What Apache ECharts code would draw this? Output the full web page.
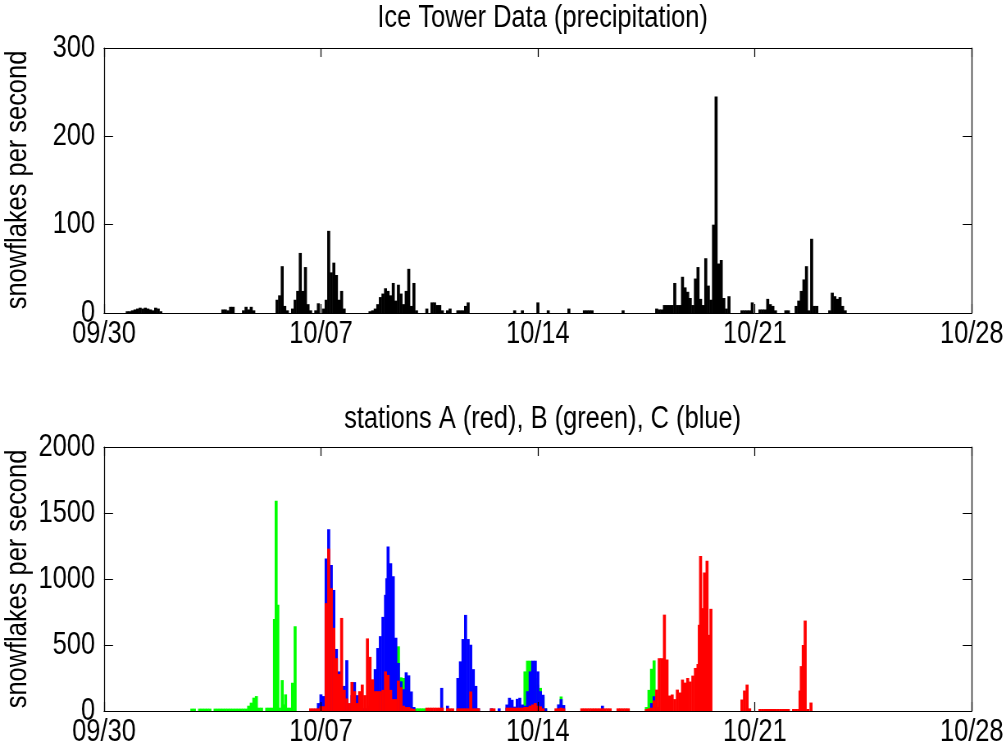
<!DOCTYPE html>
<html>
<head>
<meta charset="utf-8">
<script src="https://cdn.jsdelivr.net/npm/echarts@6/dist/echarts.min.js"></script>
<style>
html,body{margin:0;padding:0;background:#fff;overflow:hidden;}
#wrap{width:1006px;height:748px;overflow:hidden;}
#chart{width:1227px;height:748px;transform:scaleX(0.819886);transform-origin:0 0;}
</style>
</head>
<body>
<div id="wrap"><div id="chart"></div></div>
<script>
// x values: hours since 09/30 00:00
const tickLabels = ['09/30', '10/07', '10/14', '10/21', '10/28'];
const topTitle = 'Ice Tower Data (precipitation)';
const bottomTitle = 'stations A (red), B (green), C (blue)';
const yName = 'snowflakes per second';

const tower = [
  [18,2],[20,2],[22,3],[24,4],[26,5],[28,6],[30,5],[32,6],[34,5],[36,4],[38,3],[40,6],[42,5],[44,2],
  [92,4],[94,4],[96,3],[98,7],[100,7],
  [108,3],[110,7],[112,4],[114,7],[116,3],
  [134,15],[136,20],[138,53],[140,8],[142,3],
  [146,5],[148,15],[150,25],[152,68],[154,25],[156,52],[158,10],
  [160,3],[164,3],[166,11],
  [170,5],[172,15],[174,93],[176,46],[178,57],[180,43],[182,15],[184,25],[186,5],
  [206,2],[208,3],[210,5],[212,10],[214,18],[216,22],[218,28],[220,25],[222,20],[224,34],[226,14],[228,32],[230,22],[232,10],[234,25],[236,50],[238,8],[240,34],[242,3],
  [250,5],[254,12],[256,12],[258,9],[260,9],[262,3],[266,3],[268,5],[274,3],[276,3],[278,3],[280,8],[282,12],
  [318,3],[324,3],[336,12],[344,3],[360,5],[372,3],[374,3],[376,3],[378,3],[402,3],
  [428,5],[430,4],[432,4],[434,9],[436,9],[438,9],[440,9],[442,34],[444,9],[446,9],[448,41],[450,29],[452,24],[454,17],[456,9],[458,39],[460,52],[462,16],[464,9],[466,62],[468,31],[470,15],[472,100],[474,245],[476,56],[478,60],[480,17],[482,5],[484,19],
  [494,3],[496,3],[498,3],[500,3],[502,12],[508,4],[510,4],[512,4],[514,16],[516,10],[518,8],[520,3],[528,3],[530,3],
  [536,8],[538,14],[540,25],[542,38],[544,53],[546,3],[548,84],[550,8],[552,8],
  [562,3],[564,23],[566,19],[568,16],[570,18],[572,8],[574,3]
];

// station A (red)
const stationA = [
  [160,20],[162,20],[164,20],[166,20],[168,36],[170,36],[172,817],[174,1230],[176,930],[178,630],[180,400],[182,280],[184,705],[186,160],[188,95],[190,60],[192,220],[194,150],[196,60],[198,150],[200,200],[202,120],[204,550],[206,410],[208,240],[210,150],[212,150],[214,150],[216,160],[218,300],[220,273],[222,160],[224,90],[226,90],[228,230],[230,180],[232,40],[234,30],[236,30],[238,20],[240,15],
  [250,25],[252,25],[254,25],[256,25],[258,25],[260,25],[262,25],[266,20],[268,20],[270,20],[274,20],[276,20],[278,20],[280,20],[282,20],[284,148],[286,20],[288,20],[290,20],
  [300,20],[302,20],
  [312,25],[314,25],[316,25],[318,25],[320,25],[322,25],[324,25],[326,30],[328,30],[330,40],[332,49],[334,60],[336,40],[338,35],[340,20],
  [350,20],[352,20],[354,25],[356,20],
  [370,20],[372,20],[374,20],[376,20],[378,20],[380,20],[382,20],[384,20],[386,20],[388,20],[390,20],[392,20],[398,20],[400,20],[402,20],[404,20],[406,20],
  [420,15],[422,20],[424,25],[426,80],[428,162],[430,400],[432,400],[434,730],[436,390],[438,117],[440,125],[442,90],[444,162],[446,140],[448,238],[450,215],[452,250],[454,223],[456,268],[458,326],[460,356],[461,653],[462,1174],[463.5,779],[465,1050],[467,1138],[468.5,577],[470,774],
  [494,87],[496,155],[498,200],[500,20],
  [508,15],[510,15],[512,15],[514,15],[516,15],[518,15],[520,15],[522,15],[524,15],[526,15],[528,15],[530,15],[534,15],[536,15],[538,15],[539,155],[540,340],[541.5,500],[543,685],[545,15],[547.5,64]
];

// station B (green)
const stationB = [
  [68,18],[70,18],[74,18],[76,18],[78,18],[80,18],[82,18],[86,18],[88,18],[90,18],[92,18],[94,18],[96,18],[98,18],[100,18],[102,18],[104,18],[106,18],[108,18],[110,18],
  [112,40],[114,63],[116,101],[118,113],[120,25],[122,25],[126,25],[128,25],[130,25],[132,697],[133.3,1592],[134.6,805],[136,25],[138,234],[139.3,50],[140.6,126],[142,25],[144,25],[146,214],[148,642],
  [160,15],[162,15],
  [226,20],[228,490],[230,255],[232,250],[234,30],[236,20],[238,20],[240,20],[242,20],[244,20],[246,20],[248,20],
  [326,300],[328,381],[330,381],[332,300],[334,250],[336,200],[338,175],[340,109],[342,20],
  [354,110],
  [406,15],
  [420,30],[422,160],[424,320],[426,383],[428,20]
];

// station C (blue)
const stationC = [
  [160,15],[162,15],[164,15],[166,60],[168,126],[170,113],[172,1156],[174,1377],[176,1106],[178,917],[180,470],[182,300],[184,170],[186,190],[188,385],[190,50],[192,120],[194,219],[196,120],[198,40],[200,20],[202,20],[204,20],[206,40],[208,100],[210,317],[212,477],[214,567],[216,713],[218,880],[219,1005],[220,1246],[222,1120],[224,1020],[226,555],[228,364],[230,225],[232,165],[234,293],[236,270],[238,148],[240,30],
  [261.5,175],[266,40],
  [274,250],[276,376],[278,545],[280,728],[282,545],[284,502],[286,317],[288,190],[290,20],
  [300,20],[306,20],
  [312,49],[314,100],[316,85],[318,33],[320,92],[322,100],[324,49],[326,40],[328,150],[330,300],[332,381],[334,381],[336,300],[338,150],[340,123],[342,20],
  [352,50],[354,90],[356,45],
  [386,40],
  [424,60],[426,112],[428,30]
];

// the canvas is drawn wide and squeezed horizontally by S (condensed text look)
const S = 0.819886;
const FONT = '"Liberation Sans", Arial, Helvetica, sans-serif';
const FS = 31;
const XMAX = 672, XSTEP = 168;
const gx = v => v / S;   // horizontal final px -> canvas px

function xAxes(gridIndex) {
  const base = {
    type: 'value', gridIndex, min: 0, max: XMAX, interval: XSTEP, z: 10,
    axisLine: { show: true, onZero: false, lineStyle: { color: '#000', width: 1 } },
    axisTick: { show: true, inside: true, length: 9, lineStyle: { color: '#000', width: gx(1) } },
    splitLine: { show: false }
  };
  return [
    Object.assign({}, base, {
      position: 'bottom',
      axisLabel: { show: true, margin: 6, color: '#000', fontFamily: FONT, fontSize: FS,
        formatter: v => tickLabels[Math.round(v / XSTEP)] }
    }),
    Object.assign({}, base, { position: 'top', axisLabel: { show: false } })
  ];
}
function yAxes(gridIndex, max, step) {
  const base = {
    type: 'value', gridIndex, min: 0, max, interval: step, z: 10,
    axisLine: { show: true, onZero: false, lineStyle: { color: '#000', width: gx(1) } },
    axisTick: { show: true, inside: true, length: gx(9), lineStyle: { color: '#000', width: 1 } },
    splitLine: { show: false }
  };
  return [
    Object.assign({}, base, {
      position: 'left',
      axisLabel: { show: true, margin: gx(9), color: '#000', fontFamily: FONT, fontSize: FS,
        formatter: v => String(v) }
    }),
    Object.assign({}, base, { position: 'right', axisLabel: { show: false } })
  ];
}
function barSeries(name, data, color, xi, yi) {
  return {
    type: 'bar', name, data, xAxisIndex: xi, yAxisIndex: yi,
    barWidth: gx(3), barGap: '-100%', itemStyle: { color }, silent: true
  };
}
function yNameText(cy) {
  return {
    type: 'text', x: gx(18), y: cy, rotation: Math.PI / 2,
    scaleX: S, scaleY: 1 / S, z: 20,
    style: { text: yName, fill: '#000', font: FS + 'px ' + FONT, align: 'center', verticalAlign: 'middle' }
  };
}
function titleText(text, top) {
  return {
    text, left: gx(538.5), textAlign: 'center', top,
    textStyle: { color: '#000', fontFamily: FONT, fontSize: FS, fontWeight: 'normal' }
  };
}

const chart = echarts.init(document.getElementById('chart'), null, { renderer: 'canvas' });
chart.setOption({
  animation: false,
  backgroundColor: '#fff',
  title: [titleText(topTitle, -2), titleText(bottomTitle, 399)],
  grid: [
    { left: gx(104), top: 48, width: gx(869), height: 265 },
    { left: gx(104), top: 447, width: gx(869), height: 265 }
  ],
  xAxis: [...xAxes(0), ...xAxes(1)],
  yAxis: [...yAxes(0, 300, 100), ...yAxes(1, 2000, 500)],
  graphic: [yNameText(180), yNameText(579)],
  series: [
    barSeries('Ice Tower', tower, '#000000', 0, 0),
    barSeries('B', stationB, '#00ff00', 2, 2),
    barSeries('C', stationC, '#0000ff', 2, 2),
    barSeries('A', stationA, '#ff0000', 2, 2)
  ]
});
</script>
</body>
</html>
